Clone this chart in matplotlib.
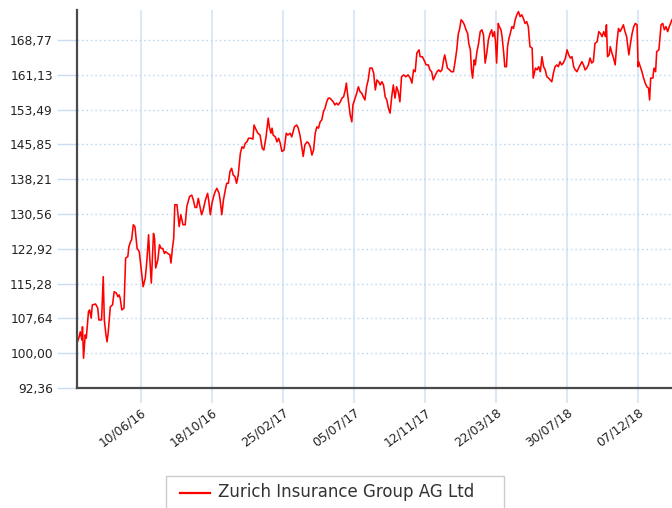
import matplotlib
matplotlib.use("Agg")
import matplotlib.pyplot as plt
from matplotlib.lines import Line2D
from matplotlib.patches import Rectangle
import numpy as np

# ---------------- data ----------------
start_date = "2016-02-14"
end_date = "2019-02-07"
series_name = "Zurich Insurance Group AG Ltd"

day_offsets = [
    0, 4, 6, 9, 10, 12, 15, 17, 21, 23, 26, 28, 34, 38, 40, 45, 48, 50, 53, 55,
    57, 61, 65, 68, 72, 75, 77, 79, 82, 86, 89, 93, 95, 98, 100, 103, 106, 110, 114, 117,
    121, 125, 128, 131, 133, 136, 140, 142, 144, 148, 151, 154, 157, 160, 162, 166, 170, 172, 175, 177,
    179, 183, 187, 190, 194, 198, 201, 206, 210, 213, 216, 219, 222, 225, 228, 231, 235, 239, 241, 244,
    247, 250, 253, 256, 260, 262, 265, 268, 272, 274, 277, 280, 283, 286, 289, 292, 295, 299, 302, 305,
    308, 311, 314, 318, 322, 324, 328, 331, 335, 339, 342, 346, 350, 352, 355, 357, 359, 363, 366, 369,
    372, 375, 379, 383, 386, 390, 393, 398, 402, 405, 408, 411, 414, 417, 421, 424, 427, 430, 433, 436,
    439, 442, 445, 448, 451, 454, 457, 460, 463, 466, 469, 472, 475, 478, 482, 485, 488, 491, 493, 495,
    498, 500, 503, 505, 509, 512, 515, 518, 521, 524, 527, 530, 533, 536, 540, 543, 546, 549, 552, 555,
    558, 561, 564, 567, 570, 573, 576, 579, 582, 585, 588, 591, 594, 598, 602, 606, 610, 613, 616, 619,
    622, 626, 628, 632, 635, 639, 643, 646, 649, 652, 656, 659, 662, 665, 668, 671, 673, 676, 678, 682,
    685, 689, 692, 695, 698, 700, 703, 706, 709, 712, 715, 717, 720, 722, 724, 727, 729, 732, 735, 738,
    741, 744, 747, 750, 753, 756, 759, 761, 764, 766, 768, 771, 773, 776, 778, 781, 783, 786, 788, 790,
    793, 796, 799, 802, 805, 808, 811, 814, 817, 820, 823, 826, 829, 833, 835, 839, 842, 845, 848, 851,
    854, 857, 860, 863, 866, 869, 872, 875, 878, 881, 884, 887, 890, 894, 897, 900, 903, 906, 909, 912,
    915, 918, 921, 924, 927, 930, 933, 936, 939, 942, 945, 948, 952, 955, 958, 961, 964, 967, 969, 971,
    974, 976, 979, 982, 985, 988, 991, 994, 997, 1000, 1003, 1006, 1010, 1013, 1016, 1019, 1022, 1025, 1027, 1028,
    1031, 1034, 1037, 1040, 1043, 1046, 1048, 1050, 1054, 1056, 1059, 1061, 1065, 1069, 1072, 1075, 1078, 1081, 1084, 1089,
]

values = [
    102.2, 103.6, 104.7, 102.9, 105.8, 98.9, 104.0, 103.3, 109.1, 109.5, 107.7, 110.6, 110.8, 109.9, 107.3, 107.3, 116.8, 107.3, 104.0, 102.5,
    104.4, 110.2, 110.6, 113.5, 113.2, 112.4, 112.8, 112.1, 109.5, 109.9, 120.9, 121.2, 123.4, 124.5, 124.9, 128.2, 127.8, 123.0, 122.3, 119.0,
    114.6, 116.5, 120.5, 126.0, 121.2, 115.4, 126.3, 125.2, 118.7, 120.5, 123.8, 123.0, 123.0, 121.9, 122.3, 121.9, 121.6, 119.8, 123.4, 125.2,
    132.6, 132.6, 127.8, 130.4, 128.2, 128.2, 132.2, 134.4, 134.7, 133.6, 132.0, 132.0, 134.0, 132.2, 130.4, 131.5, 133.6, 135.1, 133.6, 130.4,
    132.9, 134.4, 135.5, 136.2, 135.1, 133.6, 130.4, 133.6, 136.2, 137.3, 137.3, 139.9, 140.6, 139.1, 138.8, 137.3, 139.1, 143.9, 145.3, 145.0,
    146.1, 146.4, 147.2, 147.2, 147.0, 150.1, 149.0, 148.3, 147.9, 145.0, 144.6, 147.5, 151.6, 149.7, 148.3, 149.4, 147.9, 147.5, 146.4, 147.2,
    146.1, 144.3, 144.6, 148.3, 147.9, 148.3, 147.5, 149.7, 150.1, 149.4, 147.9, 145.7, 143.2, 145.7, 146.4, 146.1, 145.3, 143.5, 144.6, 148.3,
    149.7, 149.4, 150.8, 151.2, 153.0, 153.8, 155.2, 156.0, 156.0, 155.6, 155.2, 154.5, 154.9, 154.5, 155.2, 156.0, 156.3, 157.8, 159.3, 157.1,
    154.1, 152.3, 150.8, 154.5, 156.0, 157.1, 158.5, 157.4, 157.1, 156.3, 155.6, 158.5, 160.0, 162.6, 162.6, 161.5, 157.8, 160.0, 159.6, 158.9,
    159.6, 158.9, 156.3, 155.6, 153.8, 152.7, 156.3, 158.9, 156.0, 158.5, 157.4, 155.2, 160.7, 161.1, 160.7, 161.1, 160.4, 159.3, 162.2, 161.8,
    165.9, 166.6, 165.1, 165.1, 164.4, 163.3, 163.3, 162.2, 161.8, 160.0, 161.1, 161.8, 162.2, 161.8, 162.2, 164.4, 165.5, 163.7, 162.6, 162.2,
    161.8, 161.8, 164.0, 166.6, 170.2, 171.0, 173.2, 172.8, 172.1, 171.0, 170.2, 168.0, 166.6, 162.2, 160.4, 164.4, 163.3, 166.2, 168.0, 170.6,
    171.0, 169.9, 163.7, 165.9, 168.8, 170.2, 171.0, 169.5, 170.6, 168.4, 163.7, 172.4, 171.7, 171.0, 169.5, 165.9, 162.9, 162.9, 167.3, 168.8,
    170.2, 171.7, 171.3, 173.2, 174.3, 175.0, 173.9, 174.3, 173.5, 172.4, 172.8, 171.7, 167.3, 167.0, 160.4, 162.6, 162.2, 162.9, 161.8, 165.1,
    162.9, 162.2, 160.7, 160.4, 160.0, 159.6, 161.5, 162.9, 163.3, 162.9, 164.0, 163.3, 163.7, 164.8, 166.6, 165.5, 164.8, 165.1, 162.9, 162.2,
    161.8, 162.6, 163.3, 164.0, 163.3, 162.2, 162.6, 163.3, 164.8, 163.7, 164.0, 168.0, 168.4, 170.6, 170.2, 169.5, 170.6, 169.5, 172.1, 165.1,
    165.5, 167.3, 165.9, 164.8, 163.3, 168.0, 171.3, 170.6, 171.3, 172.1, 170.6, 169.5, 165.5, 168.0, 170.2, 171.7, 172.4, 172.1, 162.9, 164.0,
    162.9, 161.8, 160.4, 159.3, 158.5, 158.2, 155.6, 160.4, 160.4, 162.6, 161.8, 166.2, 166.6, 172.1, 172.4, 171.0, 171.7, 170.6, 171.7, 173.2,
]

y_tick_labels = ["92,36", "100,00", "107,64", "115,28", "122,92", "130,56",
                 "138,21", "145,85", "153,49", "161,13", "168,77"]
y_top = 175.35

x_tick_dates = ["2016-06-10", "2016-10-18", "2017-02-25", "2017-07-05",
                "2017-11-12", "2018-03-22", "2018-07-30", "2018-12-07"]
x_tick_labels = ["10/06/16", "18/10/16", "25/02/17", "05/07/17",
                 "12/11/17", "22/03/18", "30/07/18", "07/12/18"]

# ---------------- figure ----------------
W, H = 672, 508
fig = plt.figure(figsize=(W / 100, H / 100), dpi=100)
fig.patch.set_facecolor("white")
ax = fig.add_axes([77 / W, 1 - 388 / H, (672 - 77) / W, (388 - 10) / H])

dates = np.datetime64(start_date) + np.array(day_offsets).astype("timedelta64[D]")
ax.plot(dates, values, color="#ff0000", lw=1.15, solid_joinstyle="round", zorder=3)

y_ticks = [float(s.replace(",", ".")) for s in y_tick_labels]
ax.set_ylim(y_ticks[0], y_top)
ax.set_yticks(y_ticks)
ax.set_yticklabels(y_tick_labels)

ax.set_xlim(np.datetime64(start_date), np.datetime64(end_date))
ax.set_xticks([np.datetime64(d) for d in x_tick_dates])
ax.set_xticklabels(x_tick_labels)

ax.set_axisbelow(True)
ax.yaxis.grid(True, linestyle=(0, (1.2, 2.0)), color="#c4d8ef", lw=1.0)
ax.xaxis.grid(True, linestyle="-", color="#dce8f6", lw=1.5)

for s in ("top", "right"):
    ax.spines[s].set_visible(False)
for s in ("left", "bottom"):
    ax.spines[s].set_color("#4a4a4a")
    ax.spines[s].set_linewidth(1.6)
    ax.spines[s].set_zorder(4)

ax.tick_params(axis="y", length=14.4, width=1.0, color="#c9dcf2", pad=3,
               labelsize=8.8, labelcolor="#222222")
ax.tick_params(axis="x", length=11, width=1.5, color="#dce8f6", pad=2,
               labelsize=8.8, labelcolor="#222222")
for lbl in ax.get_xticklabels():
    lbl.set_rotation(37)
    lbl.set_ha("right")
    lbl.set_rotation_mode("anchor")

# ---------------- legend ----------------
fig.add_artist(Rectangle((166 / W, -0.05), (504 - 166) / W, 0.05 + (508 - 476) / H,
                         transform=fig.transFigure, fill=False,
                         edgecolor="#cccccc", lw=1.0))
fig.add_artist(Line2D([180 / W, 210 / W], [1 - 493 / H] * 2, color="#ff0000",
                      lw=1.6, transform=fig.transFigure))
fig.text(218 / W, 1 - 492 / H, series_name, ha="left", va="center",
         fontsize=12, color="#333333")

fig.savefig("out.png", dpi=100)
